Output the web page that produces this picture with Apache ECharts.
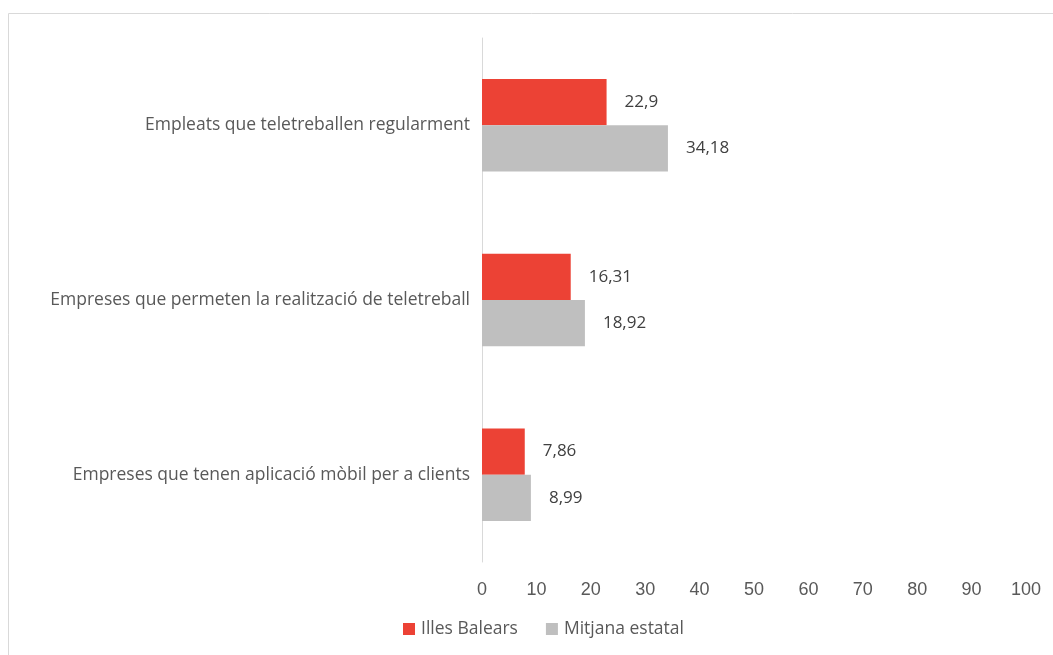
<!DOCTYPE html>
<html><head><meta charset="utf-8">
<script src="https://cdn.jsdelivr.net/npm/echarts@6/dist/echarts.min.js"></script>
<style>html,body{margin:0;padding:0;background:#fff}#c{width:1053px;height:655px}</style>
</head><body><div id="c"></div>
<script>
const categories = [
  "Empleats que teletreballen regularment",
  "Empreses que permeten la realització de teletreball",
  "Empreses que tenen aplicació mòbil per a clients"
];
const balears = [22.9, 16.31, 7.86];
const estatal = [34.18, 18.92, 8.99];
const xTicks = [0, 10, 20, 30, 40, 50, 60, 70, 80, 90, 100];

const fmt = p => String(p.value).replace('.', ',');
const FONT = 'Open Sans, Liberation Sans, sans-serif';
const chart = echarts.init(document.getElementById('c'));
chart.setOption({
  animation: false,
  graphic: [{type:'rect', shape:{x:8.5, y:13.5, width:1100, height:700}, style:{fill:'none', stroke:'#d9d9d9', lineWidth:1}, silent:true}],
  grid: {left: 482, right: 27, top: 38, bottom: 93, containLabel: false},
  legend: {
    bottom: 12, left: 398, itemWidth: 12, itemHeight: 12, itemGap: 28,
    icon: 'rect',
    textStyle: {color: '#595959', fontSize: 17.5, fontFamily: FONT, padding: [0, 0, 0, 1]},
    data: ['Illes Balears', 'Mitjana estatal']
  },
  xAxis: {
    type: 'value', min: 0, max: 100, interval: 10,
    axisLine: {show: false}, axisTick: {show: false}, splitLine: {show: false},
    axisLabel: {color: '#595959', fontSize: 18, margin: 19, fontFamily: 'Liberation Sans, Arial, sans-serif',
      formatter: v => xTicks.includes(v) ? String(v) : ''}
  },
  yAxis: {
    type: 'category', data: categories, inverse: true,
    axisLine: {show: true, lineStyle: {color: '#d9d9d9', width: 1}},
    axisTick: {show: false},
    axisLabel: {color: '#595959', fontSize: 17.5, margin: 12, fontFamily: FONT}
  },
  series: [
    {name: 'Illes Balears', type: 'bar', data: balears, barGap: '0%', barCategoryGap: '47%',
     itemStyle: {color: '#ec4235'},
     label: {show: true, position: 'right', distance: 18, formatter: fmt, color: '#404040', fontSize: 17, fontFamily: FONT}},
    {name: 'Mitjana estatal', type: 'bar', data: estatal, barGap: '0%', barCategoryGap: '47%',
     itemStyle: {color: '#bfbfbf'},
     label: {show: true, position: 'right', distance: 18, formatter: fmt, color: '#404040', fontSize: 17, fontFamily: FONT}}
  ]
});
</script></body></html>
